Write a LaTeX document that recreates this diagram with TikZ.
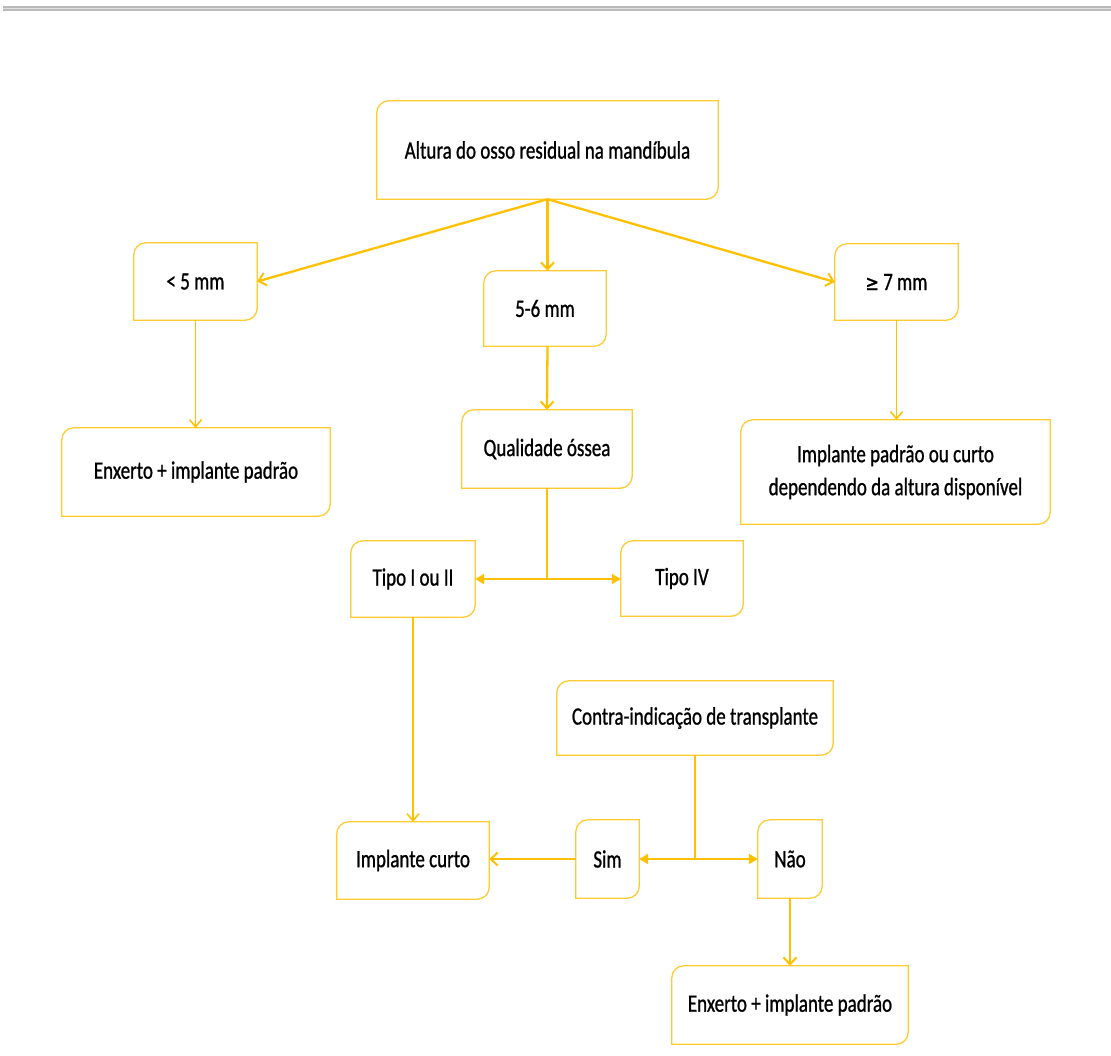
\documentclass[tikz,border=0pt]{standalone}
\usepackage{fontspec}
\newfontfamily\boxfont[FakeStretch=0.76,FakeBold=0.9]{Carlito}
\newfontfamily\symfont[FakeStretch=0.76,FakeBold=0.9]{DejaVu Sans}
\usetikzlibrary{arrows.meta,calc}
\definecolor{gold}{HTML}{FFC000}
\definecolor{goldbox}{HTML}{FFCB33}
\tikzset{
  box/.style={inner sep=0pt, align=center, font=\boxfont\fontsize{25}{33}\selectfont, text=black},
  boxline/.style={draw=goldbox, line width=1.3pt},
  thick arrow/.style={draw=gold, line width=2.3pt, -{Straight Barb[length=7pt,width=13pt,line width=2pt]}},
  thin arrow/.style={draw=gold, line width=1.2pt, -{Straight Barb[length=7pt,width=12pt,line width=1.5pt]}},
  split arrow/.style={draw=gold, line width=2.4pt, -{Triangle[length=9pt,width=10pt]}},
  split line/.style={draw=gold, line width=2.4pt},
}
\begin{document}
\begin{tikzpicture}[x=1pt,y=1pt]
\useasboundingbox (0,0) rectangle (1111,-1055);
% top rule
\fill[gray!55] (3,-6) rectangle (1111,-10.5);
\draw[gray!25, line width=0.8pt] (3,-8.2) -- (1111,-8.2);

\node[box, minimum width=341, minimum height=98] (altura) at (547.5,-150) {Altura do osso residual na mandíbula};
\node[box, minimum width=123, minimum height=77] (lt5) at (195.5,-281.5) {< 5 mm};
\node[box, minimum width=122, minimum height=75] (mid) at (545,-308.5) {5-6 mm};
\node[box, minimum width=123, minimum height=76] (ge7) at (896.5,-282) {{\symfont\fontsize{21}{25}\selectfont ≥} 7 mm};
\node[box, minimum width=268, minimum height=88] (enx1) at (196,-472) {Enxerto + implante padrão};
\node[box, minimum width=170, minimum height=78] (qual) at (547,-449) {Qualidade óssea};
\node[box, minimum width=309, minimum height=104] (impl) at (895.5,-472) {Implante padrão ou curto\\dependendo da altura disponível};
\node[box, minimum width=124, minimum height=76] (tipo12) at (413,-579) {Tipo I ou II};
\node[box, minimum width=122, minimum height=75] (tipo4) at (682,-578.5) {Tipo IV};
\node[box, minimum width=276, minimum height=74] (contra) at (695,-718) {Contra-indicação de transplante};
\node[box, minimum width=152, minimum height=77] (curto) at (413,-860.5) {Implante curto};
\node[box, minimum width=63, minimum height=78] (sim) at (607.5,-859) {Sim};
\node[box, minimum width=64, minimum height=78] (nao) at (790,-859) {Não};
\node[box, minimum width=236, minimum height=78] (enx2) at (790,-1005) {Enxerto + implante padrão};

\foreach \n in {altura,lt5,mid,ge7,enx1,qual,impl,tipo12,tipo4,contra,curto,sim,nao,enx2}{
  \draw[boxline] ($(\n.north west)+(12,0)$) -- (\n.north east) -- ($(\n.south east)+(0,12)$)
    arc[start angle=0,end angle=-90,radius=12] -- (\n.south west) -- ($(\n.north west)+(0,-12)$)
    arc[start angle=180,end angle=90,radius=12] -- cycle;
}

% connectors
\draw[thick arrow] (altura.south) -- (lt5.east);
\draw[thick arrow] (altura.south) -- (altura.south |- mid.north);
\draw[thick arrow] (altura.south) -- (ge7.west);
\draw[thin arrow] (lt5.south) -- (lt5.south |- enx1.north);
\draw[thick arrow] (altura.south |- mid.south) -- (qual.north);
\draw[thin arrow] (ge7.south) -- (ge7.south |- impl.north);
\coordinate (qsplit) at (qual.south |- tipo12.east);
\draw[split line] (qual.south) -- (qsplit);
\draw[split arrow] (qsplit) -- (tipo12.east);
\draw[split arrow] (qsplit) -- (tipo4.west |- qsplit);
\draw[thin arrow] (tipo12.south) -- (curto.north);
\coordinate (csplit) at (contra.south |- sim.east);
\draw[split line] (contra.south) -- (csplit);
\draw[split arrow] (csplit) -- (sim.east);
\draw[split arrow] (csplit) -- (nao.west);
\draw[thick arrow] (sim.west) -- (curto.east |- sim.west);
\draw[thick arrow] (nao.south) -- (enx2.north);
\end{tikzpicture}
\end{document}
